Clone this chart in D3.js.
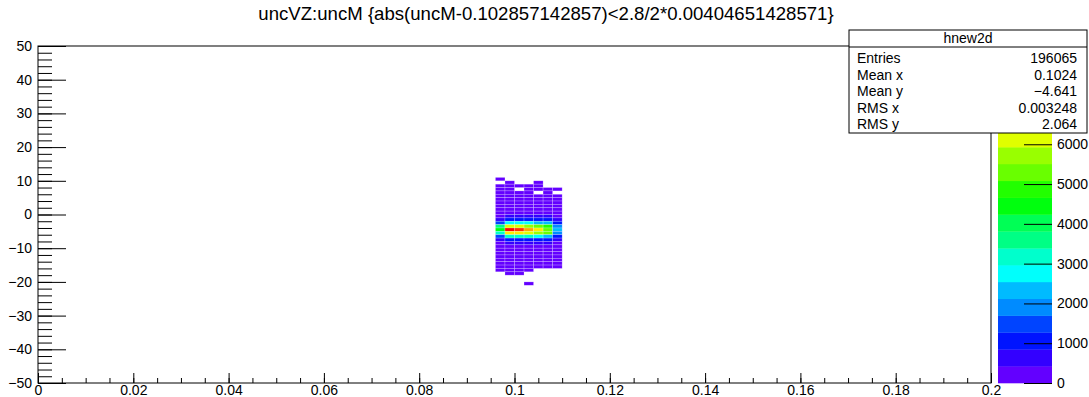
<!DOCTYPE html>
<html>
<head>
<meta charset="utf-8">
<script src="https://cdn.jsdelivr.net/npm/d3@7"></script>
<style>
  body { margin: 0; background: #fff; }
  text { font-family: "Liberation Sans", Arial, sans-serif; fill: #000; }
</style>
</head>
<body>
<script>
// chart data
var title = "uncVZ:uncM {abs(uncM-0.102857142857)<2.8/2*0.00404651428571}"
var binWidthX = 0.002
var binWidthY = 1
var xBinLow = [0.096, 0.098, 0.100, 0.102, 0.104, 0.106, 0.108]
var yBinLow = [10, 9, 8, 7, 6, 5, 4, 3, 2, 1, 0, -1, -2, -3, -4, -5, -6, -7, -8, -9,
               -10, -11, -12, -13, -14, -15, -16, -17, -18, -19, -20, -21]
// one row per yBinLow entry, one column per xBinLow entry
var counts = [
    [240, 0, 0, 0, 0, 0, 0],
    [0, 210, 0, 0, 230, 0, 0],
    [260, 250, 220, 240, 250, 0, 0],
    [270, 280, 0, 260, 260, 230, 220],
    [290, 270, 300, 280, 0, 260, 0],
    [300, 310, 290, 300, 280, 270, 250],
    [280, 320, 310, 300, 300, 280, 260],
    [310, 330, 320, 310, 300, 290, 270],
    [300, 340, 330, 330, 320, 300, 280],
    [320, 360, 350, 340, 330, 310, 290],
    [330, 390, 380, 370, 360, 340, 300],
    [380, 560, 530, 510, 490, 460, 340],
    [600, 1150, 1080, 1020, 960, 880, 520],
    [1450, 2900, 2750, 2600, 2450, 2200, 950],
    [3500, 6300, 6000, 5800, 5500, 4900, 1900],
    [4300, 8470, 7700, 7000, 6400, 5500, 2200],
    [3000, 6700, 6500, 6200, 5900, 5100, 1800],
    [1500, 3100, 3200, 3100, 2900, 2500, 950],
    [560, 1050, 1100, 1060, 1000, 900, 480],
    [340, 470, 480, 460, 450, 430, 310],
    [300, 360, 370, 350, 340, 320, 280],
    [290, 330, 320, 320, 310, 300, 270],
    [270, 300, 310, 300, 290, 280, 250],
    [250, 290, 280, 280, 270, 260, 240],
    [240, 270, 260, 270, 250, 240, 230],
    [230, 250, 250, 240, 240, 220, 210],
    [210, 240, 230, 230, 220, 210, 200],
    [200, 220, 210, 200, 0, 0, 0],
    [0, 200, 190, 0, 0, 0, 0],
    [0, 0, 0, 0, 0, 0, 0],
    [0, 0, 0, 0, 0, 0, 0],
    [0, 0, 0, 180, 0, 0, 0]
]
var zMax = 8470
var nLevels = 20

var xMajorTicks = [0, 0.02, 0.04, 0.06, 0.08, 0.1, 0.12, 0.14, 0.16, 0.18, 0.2]
var yMajorTicks = [-50, -40, -30, -20, -10, 0, 10, 20, 30, 40, 50]
// 7000 and 8000 sit under the stats box
var zTicks = [0, 1000, 2000, 3000, 4000, 5000, 6000]

var statsName = "hnew2d"
var statsLabels = ["Entries", "Mean x", "Mean y", "RMS x", "RMS y"]
var statsValues = ["196065", "0.1024", "\u22124.641", "0.003248", "2.064"]

// layout
var W = 1089, H = 397
var frame = {left: 38, right: 991, top: 46, bottom: 383}
var pal = {left: 998, right: 1052}

var svg = d3.select("body").append("svg")
    .attr("width", W)
    .attr("height", H)

svg.append("rect").attr("width", W).attr("height", H).attr("fill", "#fff")

var x = d3.scaleLinear().domain([0, 0.2]).range([frame.left, frame.right])
var y = d3.scaleLinear().domain([-50, 50]).range([frame.bottom, frame.top])
var z = d3.scaleLinear().domain([0, zMax]).range([frame.bottom, frame.top])

// old ROOT "pretty" palette: 50 hues from violet to red
var palette = d3.range(50).map((i) => d3.hsl(280 - (i + 1) * 5.6, 1, 0.5).formatHex())
var levelColor = function(lev){
    return palette[Math.min(49, Math.floor((lev + 0.99) * 50 / nLevels))]
}
var valueColor = function(v){
    var lev = Math.min(nLevels - 1, Math.floor(0.01 + v * nLevels / zMax))
    return levelColor(lev)
}

// cells
var cells = []
yBinLow.forEach((yb, r) => {
    xBinLow.forEach((xb, c) => {
        if (counts[r][c] > 0) cells.push({x: xb, y: yb, v: counts[r][c]})
    })
})

svg.append("g").selectAll("rect")
    .data(cells)
    .enter()
    .append("rect")
    .attr("x", (d) => x(d.x))
    .attr("y", (d) => y(d.y + binWidthY))
    .attr("width", (d) => x(d.x + binWidthX) - x(d.x))
    .attr("height", (d) => y(d.y) - y(d.y + binWidthY))
    .attr("fill", (d) => valueColor(d.v))
    .attr("stroke", "rgba(255,255,255,0.35)")
    .attr("stroke-width", 0.6)

// frame
svg.append("rect")
    .attr("x", frame.left).attr("y", frame.top)
    .attr("width", frame.right - frame.left)
    .attr("height", frame.bottom - frame.top)
    .attr("fill", "none").attr("stroke", "#000").attr("stroke-width", 1)

var fmtX = d3.format("~g")
var fmtY = d3.format("d")

// x axis (ticks pointing into the frame)
var xMinor = d3.range(0, 0.2001, 0.005)
svg.append("g")
    .attr("transform", "translate(0," + frame.bottom + ")")
    .call(d3.axisBottom(x).tickValues(xMinor).tickSize(-5).tickFormat(""))
    .call((g) => g.select(".domain").remove())
svg.append("g")
    .attr("class", "xaxis")
    .attr("transform", "translate(0," + frame.bottom + ")")
    .call(d3.axisBottom(x).tickValues(xMajorTicks).tickSize(-10).tickFormat(fmtX))
    .call((g) => g.select(".domain").remove())

// y axis
var yMinor = d3.range(-50, 50.1, 2)
svg.append("g")
    .attr("transform", "translate(" + frame.left + ",0)")
    .call(d3.axisLeft(y).tickValues(yMinor).tickSize(-14).tickFormat(""))
    .call((g) => g.select(".domain").remove())
svg.append("g")
    .attr("class", "yaxis")
    .attr("transform", "translate(" + frame.left + ",0)")
    .call(d3.axisLeft(y).tickValues(yMajorTicks).tickSize(-28).tickPadding(6).tickFormat(fmtY))
    .call((g) => g.select(".domain").remove())

svg.selectAll(".xaxis text, .yaxis text")
    .attr("font-size", 14)
    .attr("font-family", "Liberation Sans, Arial, sans-serif")
svg.selectAll(".xaxis text").attr("y", 12).attr("dy", 0)
svg.selectAll(".tick line").attr("stroke", "#000")

// colour palette bar
var levels = d3.range(nLevels)
svg.append("g").selectAll("rect")
    .data(levels)
    .enter()
    .append("rect")
    .attr("x", pal.left)
    .attr("width", pal.right - pal.left)
    .attr("y", (d) => z((d + 1) * zMax / nLevels))
    .attr("height", (d) => z(d * zMax / nLevels) - z((d + 1) * zMax / nLevels) + 0.3)
    .attr("fill", (d) => levelColor(d))

svg.append("g")
    .attr("class", "zaxis")
    .attr("transform", "translate(" + pal.right + ",0)")
    .call(d3.axisRight(z).tickValues(zTicks).tickSize(-28).tickPadding(5).tickFormat(fmtY))
    .call((g) => g.select(".domain").remove())
svg.selectAll(".zaxis text")
    .attr("font-size", 14)
    .attr("font-family", "Liberation Sans, Arial, sans-serif")
svg.selectAll(".zaxis line").attr("stroke", "#000")

// title
svg.append("text")
    .attr("x", 546)
    .attr("y", 20)
    .attr("text-anchor", "middle")
    .attr("font-size", 18.6)
    .text(title)

// stats box
var box = {left: 849, right: 1087, top: 30, bottom: 133, head: 47}
var stats = svg.append("g")
stats.append("rect")
    .attr("x", box.left).attr("y", box.top)
    .attr("width", box.right - box.left).attr("height", box.bottom - box.top)
    .attr("fill", "#fff").attr("stroke", "#000").attr("stroke-width", 1)
stats.append("line")
    .attr("x1", box.left).attr("x2", box.right)
    .attr("y1", box.head).attr("y2", box.head)
    .attr("stroke", "#000")
stats.append("text")
    .attr("x", (box.left + box.right) / 2)
    .attr("y", 43)
    .attr("text-anchor", "middle")
    .attr("font-size", 14)
    .text(statsName)

var rowY = d3.scalePoint().domain(statsLabels).range([63, 129])
stats.selectAll("text.lab")
    .data(statsLabels)
    .enter()
    .append("text")
    .attr("class", "lab")
    .attr("x", 857)
    .attr("y", (d) => rowY(d))
    .attr("font-size", 14)
    .text((d) => d)
stats.selectAll("text.val")
    .data(statsValues)
    .enter()
    .append("text")
    .attr("class", "val")
    .attr("x", 1077)
    .attr("y", (d, i) => rowY(statsLabels[i]))
    .attr("text-anchor", "end")
    .attr("font-size", 14)
    .text((d) => d)
</script>
</body>
</html>
